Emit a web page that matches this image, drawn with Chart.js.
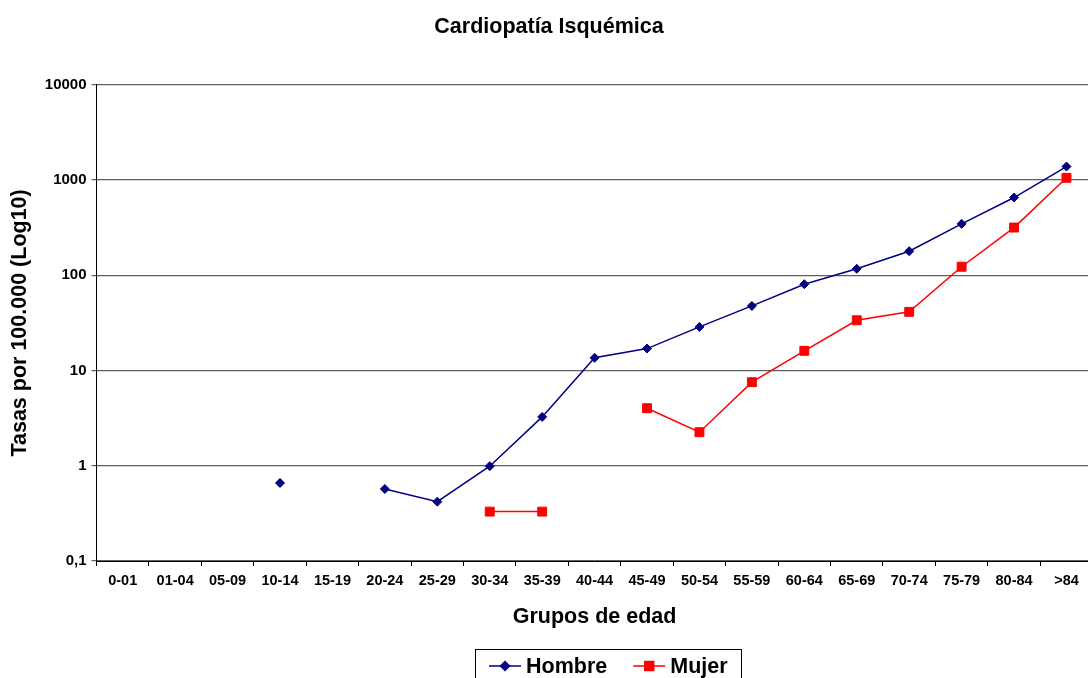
<!DOCTYPE html>
<html>
<head>
<meta charset="utf-8">
<title>Cardiopatía Isquémica</title>
<script src="https://cdn.jsdelivr.net/npm/chart.js@4/dist/chart.umd.min.js"></script>
<style>
  html, body { margin: 0; padding: 0; background: #fff; overflow: hidden; }
  #wrap { width: 1100px; height: 678px; }
</style>
</head>
<body>
<div id="wrap"><canvas id="chart" width="1100" height="678"></canvas></div>
<script>
'use strict';

// Age groups (x axis)
const categories = ['0-01', '01-04', '05-09', '10-14', '15-19', '20-24', '25-29', '30-34', '35-39',
  '40-44', '45-49', '50-54', '55-59', '60-64', '65-69', '70-74', '75-79', '80-84', '>84'];

// Rates per 100.000 (null = no value)
const hombre = [null, null, null, 0.66, null, 0.57, 0.42, 0.99, 3.26, 13.6, 17.0, 28.7, 47.7,
  80.6, 117, 179, 347, 655, 1386];
const mujer = [null, null, null, null, null, null, null, 0.33, 0.33, null, 4.02, 2.25, 7.54,
  16.1, 33.7, 41.3, 123, 317, 1055];

// Y axis decades and their labels
const yTickValues = [0.1, 1, 10, 100, 1000, 10000];
const yTickLabels = ['0,1', '1', '10', '100', '1000', '10000'];

const FONT = '"Liberation Sans", Arial, sans-serif';

// Boxed legend with line + marker samples
const boxedLegend = {
  id: 'boxedLegend',
  afterDraw(chart, args, opts) {
    const ctx = chart.ctx;
    ctx.save();
    ctx.strokeStyle = '#000';
    ctx.lineWidth = 1;
    ctx.strokeRect(opts.x + 0.5, opts.y + 0.5, opts.w, opts.h);
    ctx.font = 'bold 21.5px ' + FONT;
    ctx.textBaseline = 'middle';
    let x = opts.x + 14;
    const cy = opts.y + 17;
    chart.data.datasets.forEach(ds => {
      ctx.strokeStyle = ds.borderColor;
      ctx.lineWidth = ds.borderWidth;
      ctx.beginPath();
      ctx.moveTo(x, cy);
      ctx.lineTo(x + 32, cy);
      ctx.stroke();
      ctx.fillStyle = ds.pointBackgroundColor;
      ctx.strokeStyle = ds.pointBorderColor;
      Chart.helpers.drawPoint(ctx, {
        pointStyle: ds.pointStyle, radius: ds.pointRadius, rotation: 0, borderWidth: 1,
      }, x + 16, cy);
      ctx.fillStyle = '#000';
      ctx.textAlign = 'left';
      ctx.fillText(ds.label, x + 37, cy + 1);
      x += 37 + ctx.measureText(ds.label).width + 26;
    });
    ctx.restore();
  },
};

new Chart(document.getElementById('chart'), {
  type: 'line',
  data: {
    labels: categories,
    datasets: [
      {
        label: 'Hombre',
        data: hombre,
        borderColor: '#000080',
        backgroundColor: '#000080',
        borderWidth: 1.5,
        pointStyle: 'rectRot',
        pointRadius: 4.5,
        pointBackgroundColor: '#000080',
        pointBorderColor: '#000080',
        pointBorderWidth: 1,
        spanGaps: false,
        tension: 0,
      },
      {
        label: 'Mujer',
        data: mujer,
        borderColor: '#FF0000',
        backgroundColor: '#FF0000',
        borderWidth: 1.5,
        pointStyle: 'rect',
        pointRadius: 6.3,
        pointBackgroundColor: '#FF0000',
        pointBorderColor: '#FF0000',
        pointBorderWidth: 1,
        spanGaps: false,
        tension: 0,
      },
    ],
  },
  options: {
    responsive: false,
    animation: false,
    layout: { padding: { left: 0, right: 2, top: 0, bottom: 45 } },
    plugins: {
      legend: { display: false },
      tooltip: { enabled: false },
      title: {
        display: true,
        text: 'Cardiopatía Isquémica',
        color: '#000',
        font: { family: FONT, size: 21.5, weight: 'bold' },
        padding: { top: 14, bottom: 45 },
      },
      boxedLegend: { x: 475, y: 649, w: 266, h: 40 },
    },
    scales: {
      x: {
        type: 'category',
        offset: true,
        afterFit: s => { s.height = 72; },
        grid: {
          display: true,
          drawOnChartArea: false,
          drawTicks: true,
          tickLength: 5,
          color: '#000',
          offset: true,
        },
        border: { display: true, color: '#000', width: 1 },
        ticks: {
          color: '#000',
          padding: 6,
          autoSkip: false,
          maxRotation: 0,
          font: { family: FONT, size: 14.5, weight: 'bold' },
        },
        title: {
          display: true,
          text: 'Grupos de edad',
          color: '#000',
          font: { family: FONT, size: 21.5, weight: 'bold' },
          padding: { top: 0, bottom: 3 },
        },
      },
      y: {
        type: 'logarithmic',
        min: 0.1,
        max: 10000,
        afterFit: s => { s.width = 96.5; },
        afterBuildTicks: s => { s.ticks = yTickValues.map(v => ({ value: v })); },
        grid: {
          color: '#5f5f5f',
          lineWidth: 1.2,
          drawTicks: true,
          tickLength: 5,
        },
        border: { display: true, color: '#000', width: 1 },
        ticks: {
          color: '#000',
          padding: 5,
          font: { family: FONT, size: 15, weight: 'bold' },
          callback: v => yTickLabels[yTickValues.indexOf(v)],
        },
        title: {
          display: true,
          text: 'Tasas por 100.000 (Log10)',
          color: '#000',
          font: { family: FONT, size: 21.5, weight: 'bold' },
          padding: { top: 7, bottom: 0 },
        },
      },
    },
  },
  plugins: [boxedLegend],
});
</script>
</body>
</html>
